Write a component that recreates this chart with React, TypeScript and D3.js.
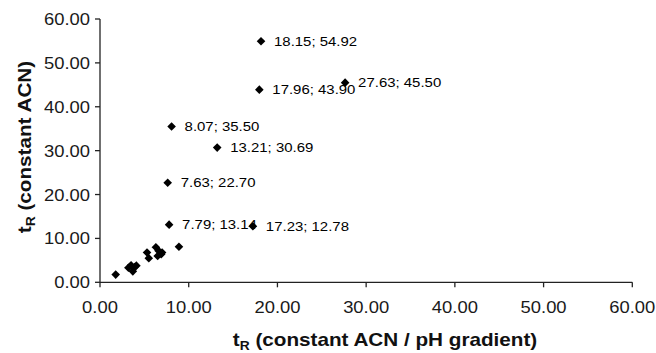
import React from "react";
import * as d3 from "d3";

// Retention times: x = constant ACN / pH gradient, y = constant ACN
const labeledX = [18.15, 17.96, 27.63, 8.07, 13.21, 7.63, 7.79, 17.23];
const labeledY = [54.92, 43.9, 45.5, 35.5, 30.69, 22.7, 13.14, 12.78];

const clusterX = [1.77, 3.2, 3.5, 3.9, 3.7, 4.1, 5.3, 5.5, 6.3, 6.6, 6.9, 6.5, 7.0, 8.9];
const clusterY = [1.75, 3.3, 3.9, 3.5, 2.5, 3.8, 6.8, 5.5, 8.0, 7.2, 6.4, 6.0, 6.8, 8.1];

const xTicks = [0, 10, 20, 30, 40, 50, 60];
const yTicks = [0, 10, 20, 30, 40, 50, 60];

const W = 656;
const H = 353;
const FONT = "'Liberation Sans', Arial, Helvetica, sans-serif";
const SX = 1.15; // horizontal stretch of the type

export default function App() {
  const x = d3.scaleLinear().domain([0, 60]).range([100, 632.3]);
  const y = d3.scaleLinear().domain([0, 60]).range([282.3, 19]);
  const diamond = d3.symbol(d3.symbolSquare, 37)();

  const labeled = labeledX.map((v, i) => ({ x: v, y: labeledY[i] }));
  const cluster = clusterX.map((v, i) => ({ x: v, y: clusterY[i] }));
  const all = [...cluster, ...labeled];
  const fmt = d3.format(".2f");

  return (
    <svg
      width={W}
      height={H}
      style={{ position: "absolute", left: 0, top: 0, background: "#fff" }}
      fontFamily={FONT}
    >
      <rect width={W} height={H} fill="#fff" />
      {/* axes */}
      <line x1={x(0)} x2={x(60)} y1={y(0)} y2={y(0)} stroke="#222" strokeWidth={1.3} />
      <line x1={x(0)} x2={x(0)} y1={y(0)} y2={y(60)} stroke="#222" strokeWidth={1.3} />
      {xTicks.map((t) => (
        <g key={"xt" + t}>
          <line x1={x(t)} x2={x(t)} y1={y(0)} y2={y(0) + 5} stroke="#222" strokeWidth={1.3} />
          <text
            transform={`translate(${x(t)},${313}) scale(${SX},1)`}
            textAnchor="middle"
            fontSize={16}
            fill="#1a1a1a"
          >
            {fmt(t)}
          </text>
        </g>
      ))}
      {yTicks.map((t) => (
        <g key={"yt" + t}>
          <line x1={x(0) - 5} x2={x(0)} y1={y(t)} y2={y(t)} stroke="#222" strokeWidth={1.3} />
          <text
            transform={`translate(${90},${y(t) + 6}) scale(${SX},1)`}
            textAnchor="end"
            fontSize={16}
            fill="#1a1a1a"
          >
            {fmt(t)}
          </text>
        </g>
      ))}

      {/* points */}
      {all.map((d, i) => (
        <path
          key={"p" + i}
          d={diamond as string}
          transform={`translate(${x(d.x)},${y(d.y)}) rotate(45)`}
          fill="#000"
        />
      ))}

      {/* value labels */}
      {labeled.map((d, i) => (
        <text
          key={"l" + i}
          transform={`translate(${x(d.x) + 13},${y(d.y) + 4.5}) scale(${SX},1)`}
          fontSize={13}
          fill="#000"
        >
          {`${fmt(d.x)}; ${fmt(d.y)}`}
        </text>
      ))}

      {/* axis titles */}
      <text
        transform={`translate(${385},${346}) scale(${SX},1)`}
        textAnchor="middle"
        fontSize={18}
        fontWeight="bold"
        fill="#111"
      >
        t<tspan fontSize={12} dy={4}>R</tspan>
        <tspan dy={-4}> (constant ACN / pH gradient)</tspan>
      </text>
      <text
        transform={`translate(${31},${147}) rotate(-90) scale(${SX},1)`}
        textAnchor="middle"
        fontSize={18}
        fontWeight="bold"
        fill="#111"
      >
        t<tspan fontSize={12} dy={4}>R</tspan>
        <tspan dy={-4}> (constant ACN)</tspan>
      </text>
    </svg>
  );
}
